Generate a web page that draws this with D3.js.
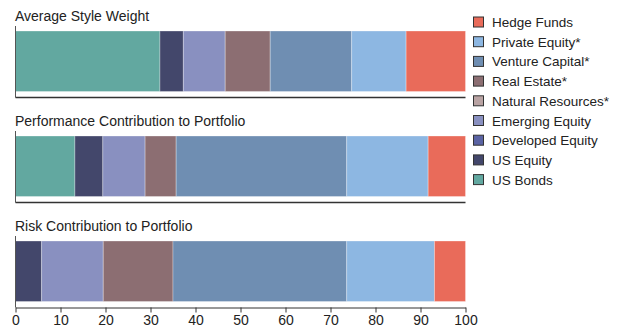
<!DOCTYPE html>
<html><head><meta charset="utf-8">
<script src="https://cdn.jsdelivr.net/npm/d3@7/dist/d3.min.js"></script>
<style>body{margin:0;background:#fff}svg{display:block;font-family:"Liberation Sans",Arial,sans-serif}</style>
</head><body><svg id="c" width="621" height="327"></svg>
<script>
const seriesNames = ["US Bonds","US Equity","Developed Equity","Emerging Equity","Natural Resources*","Real Estate*","Venture Capital*","Private Equity*","Hedge Funds"];
const seriesColors = ["#62a8a0","#43476b","#5a63a3","#8990c0","#b9a3a3","#8c6e72","#6f8eb2","#8db7e2","#e96b5a"];
const panelTitles = ["Average Style Weight","Performance Contribution to Portfolio","Risk Contribution to Portfolio"];
const avgWeight   = [32.1, 5.2, 0, 9.3, 0, 10.0, 18.1, 12.1, 13.2];
const perfContrib = [13.2, 6.2, 0, 9.4, 0, 6.9, 37.9, 18.1, 8.3];
const riskContrib = [0, 5.8, 0, 13.7, 0, 15.5, 38.6, 19.5, 6.9];
const xTicks = [0,10,20,30,40,50,60,70,80,90,100];

const panels = [avgWeight, perfContrib, riskContrib];
const svg = d3.select("#c");
const x = d3.scaleLinear().domain([0,100]).range([15.5,465.5]);
const panelY = d3.scaleBand().domain(d3.range(3)).range([31, 346]).paddingInner(0).paddingOuter(0);
const barH = 60.5;
const color = d3.scaleOrdinal().domain(seriesNames).range(seriesColors);

const rows = panels.map(vals => { const o = {}; seriesNames.forEach((s,i)=>o[s]=vals[i]); return o; });
const stacked = d3.stack().keys(seriesNames)(rows);

panels.forEach((vals, p) => {
  const top = panelY(p);
  const g = svg.append("g");
  g.append("text").attr("x", 15).attr("y", top - 10.5).attr("font-size", 14).attr("fill", "#222").text(panelTitles[p]);
  stacked.forEach(layer => {
    const d = layer[p];
    if (d[1] - d[0] <= 0) return;
    g.append("rect").attr("x", x(d[0])).attr("y", top).attr("width", x(d[1]) - x(d[0])).attr("height", barH)
      .attr("fill", color(layer.key)).attr("stroke", "#fff").attr("stroke-opacity", 0.3).attr("stroke-width", 1);
  });
  const base = top + 66.5;
  g.append("line").attr("x1", x(0)).attr("x2", x(0)).attr("y1", top - 5).attr("y2", base).attr("stroke", "#555").attr("stroke-width", 1);
  if (p < 2) {
    g.append("line").attr("x1", x(0)).attr("x2", x(100)).attr("y1", base).attr("y2", base).attr("stroke", "#333").attr("stroke-width", 1.3);
  } else {
    const ax = g.append("g").attr("transform", `translate(0,${base})`)
      .call(d3.axisBottom(x).tickValues(xTicks).tickSize(5).tickSizeOuter(0).tickPadding(2.5));
    ax.select(".domain").attr("stroke", "#333");
    ax.selectAll(".tick line").attr("stroke", "#333");
    ax.selectAll(".tick text").attr("font-size", 14).attr("fill", "#222").attr("font-family", '"Liberation Sans",Arial,sans-serif');
  }
});

const legendOrder = seriesNames.slice().reverse();
const lg = svg.append("g");
legendOrder.forEach((s, i) => {
  const cy = 22 + i * 19.7;
  lg.append("rect").attr("x", 473.5).attr("y", cy - 5).attr("width", 10).attr("height", 10)
    .attr("fill", color(s)).attr("stroke", "#333").attr("stroke-width", 1);
  lg.append("text").attr("x", 492).attr("y", cy + 5).attr("font-size", 13.5).attr("fill", "#222").text(s);
});
</script></body></html>
